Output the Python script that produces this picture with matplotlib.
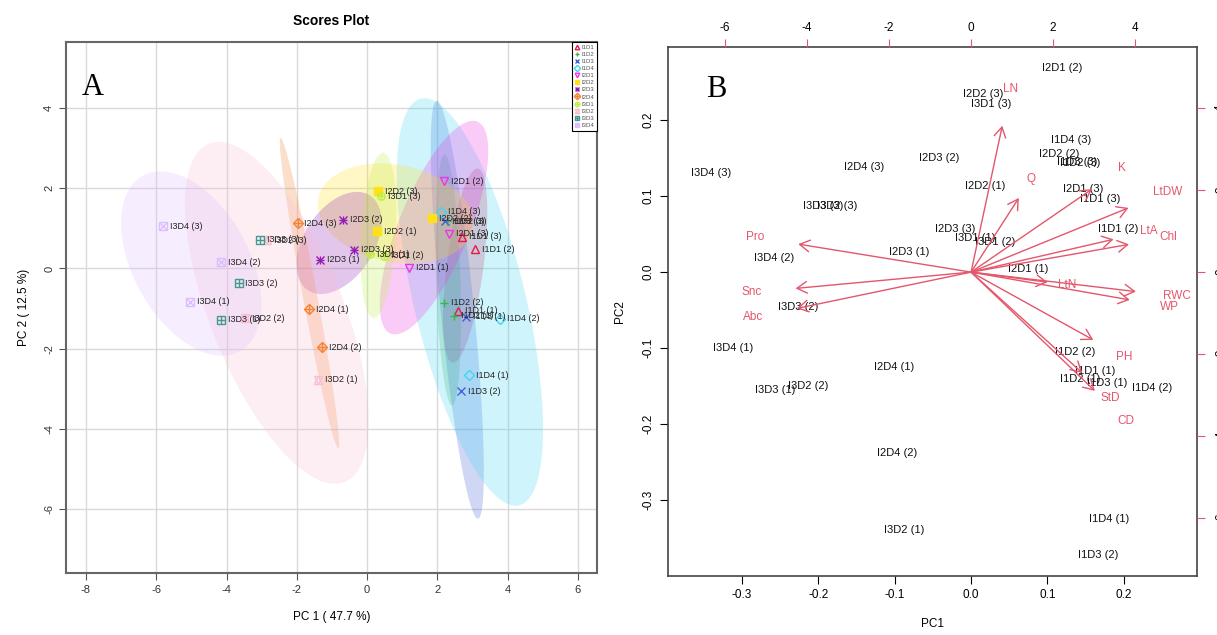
import numpy as np
import matplotlib
matplotlib.use('Agg')
import matplotlib.pyplot as plt
from matplotlib.lines import Line2D
from matplotlib.legend_handler import HandlerTuple

plt.rcParams['font.family'] = ['Liberation Sans', 'DejaVu Sans']
plt.rcParams['axes.unicode_minus'] = False

# groupes et couleurs (palette MetaboAnalyst)
groups = ['I1D1', 'I1D2', 'I1D3', 'I1D4', 'I2D1', 'I2D2',
          'I2D3', 'I2D4', 'I3D1', 'I3D2', 'I3D3', 'I3D4']
colors = ['#E6194B', '#3CB44B', '#4363D8', '#42D4F4', '#F032E6', '#FFE119',
          '#911EB4', '#F58231', '#BFEF45', '#FABED4', '#469990', '#DCBEFF']

# scores PCA (panneau A), 3 repetitions par groupe
pc1 = [2.59, 3.08, 2.70,  2.47, 2.18, 2.28,  2.81, 2.67, 2.22,  2.90, 3.79, 2.09,
       1.18, 2.19, 2.34,  0.27, 1.85, 0.30,  -1.34, -0.69, -0.37,  -1.65, -1.29, -1.98,
       0.09, 0.49, 0.39,  -1.39, -3.47, -2.85,  -4.16, -3.66, -3.06,  -5.05, -4.17, -5.80]
pc2 = [-1.06, 0.48, 0.79,  -1.18, -0.86, 1.18,  -1.20, -3.07, 1.18,  -2.67, -1.26, 1.42,
       0.02, 2.18, 0.86,  0.93, 1.25, 1.93,  0.22, 1.22, 0.47,  -1.02, -1.96, 1.13,
       0.36, 0.32, 1.80,  -2.78, -1.24, 0.70,  -1.28, -0.37, 0.72,  -0.83, 0.15, 1.05]

# biplot (panneau B) : scores mis a l'echelle
bi_x = [0.163, 0.193, 0.169,  0.143, 0.136, 0.143,  0.178, 0.166, 0.139,  0.181, 0.237, 0.131,
        0.075, 0.119, 0.147,  0.018, 0.115, 0.016,  -0.081, -0.042, -0.021,  -0.101, -0.097, -0.140,
        0.005, 0.031, 0.026,  -0.087, -0.214, -0.176,  -0.257, -0.226, -0.194,  -0.312, -0.258, -0.341]
bi_y = [-0.130, 0.057, 0.096,  -0.141, -0.105, 0.144,  -0.146, -0.372, 0.145,  -0.325, -0.152, 0.174,
        0.004, 0.268, 0.109,  0.113, 0.155, 0.234,  0.026, 0.150, 0.057,  -0.125, -0.238, 0.138,
        0.045, 0.040, 0.221,  -0.339, -0.150, 0.087,  -0.155, -0.046, 0.087,  -0.100, 0.018, 0.130]

# variables (loadings)
var_names = ['LN', 'Q', 'K', 'LtDW', 'LtA', 'Chl', 'LtN', 'RWC', 'WP',
             'PH', 'StD', 'CD', 'Pro', 'Snc', 'Abc']
load_x = [0.951, 1.456, 3.683, 4.797, 4.341, 4.813, 2.333, 5.024, 4.837,
          3.724, 3.390, 3.772, -5.268, -5.349, -5.309]
load_y = [4.463, 2.261, 2.529, 1.959, 1.000, 0.846, -0.309, -0.593, -0.846,
          -2.065, -3.073, -3.618, 0.854, -0.496, -1.106]

reps = ['1', '2', '3']
names = [g + ' (' + r + ')' for g in groups for r in reps]
grp_of = [g for g in groups for r in reps]

# symboles type pch de R
styles = {
    'I1D1': [('^', False)], 'I1D2': [('+', False)], 'I1D3': [('x', False)],
    'I1D4': [('D', False)], 'I2D1': [('v', False)], 'I2D2': [('s', True)],
    'I2D3': [('+', False), ('x', False)], 'I2D4': [('D', False), ('+', False)],
    'I3D1': [('o', False), ('+', False)], 'I3D2': [('^', False), ('v', False)],
    'I3D3': [('s', False), ('+', False)], 'I3D4': [('s', False), ('x', False)],
}
red = '#E4566B'

fig = plt.figure(figsize=(12.17, 6.35), dpi=100)

# ---------------- panneau A ----------------
axA = fig.add_axes([0.0542, 0.0976, 0.4363, 0.8362])
axA.set_xlim(-8.57, 6.54)
axA.set_ylim(-7.6, 5.65)
axA.set_xticks(range(-8, 7, 2))
axA.set_yticks(range(-6, 5, 2))
axA.grid(True, color='#D9D9D9', lw=1)
axA.set_axisbelow(True)
axA.tick_params(labelsize=8, length=5, color='#555555', labelcolor='#333333')
for lab in axA.get_yticklabels():
    lab.set_rotation(90)
    lab.set_va('center')
for s in axA.spines.values():
    s.set_color('#666666')
    s.set_linewidth(1.5)

P1 = np.array(pc1)
P2 = np.array(pc2)
G = np.array(grp_of)
tq = np.sqrt(-2 * np.log(0.05))  # ellipse de confiance 95 %
a = np.linspace(0, 2 * np.pi, 100)
for g, c in zip(groups, colors):
    pts = np.column_stack([P1[G == g], P2[G == g]])
    cov = np.cov(pts.T)
    val, vec = np.linalg.eigh(cov)
    circ = np.vstack([np.cos(a), np.sin(a)])
    el = vec @ (np.sqrt(val)[:, None] * circ) * tq
    axA.fill(el[0] + pts[:, 0].mean(), el[1] + pts[:, 1].mean(),
             color=c, alpha=0.25, lw=0, zorder=1)

handles = []
for g, c in zip(groups, colors):
    hs = []
    for m, filled in styles[g]:
        ms = 5.5 if m in '+x' else 5
        hs.append(Line2D([], [], ls='none', marker=m, ms=ms, mew=1, color=c,
                         mfc=c if filled else 'none'))
    handles.append(tuple(hs))

for x, y, n, g in zip(pc1, pc2, names, grp_of):
    c = colors[groups.index(g)]
    for m, filled in styles[g]:
        ms = 6 if m in '+x' else 5.2
        axA.plot(x, y, ls='none', marker=m, ms=ms, mew=1, color=c,
                 mfc=c if filled else 'none', zorder=3)
    axA.annotate(n, (x, y), xytext=(5, 0), textcoords='offset points',
                 fontsize=6.5, va='center', ha='left', color='#222222', zorder=4)

leg = axA.legend(handles, groups, handler_map={tuple: HandlerTuple(ndivide=1)},
                 loc='upper right', fontsize=4.3, borderaxespad=0, fancybox=False,
                 edgecolor='black', framealpha=1, handlelength=0.8, handletextpad=0.4,
                 labelspacing=0.32, borderpad=0.45, markerscale=0.65)
leg.get_frame().set_linewidth(0.8)
for t in leg.get_texts():
    t.set_color('#555555')

axA.set_title('Scores Plot', fontsize=10, fontweight='bold', pad=12)
axA.set_xlabel('PC 1 ( 47.7 %)', fontsize=8.5, labelpad=12)
axA.set_ylabel('PC 2 ( 12.5 %)', fontsize=8.5, labelpad=10)
axA.text(0.051, 0.915, 'A', transform=axA.transAxes, fontsize=22,
         family='Liberation Serif', ha='center', va='center', zorder=5)

# ---------------- panneau B ----------------
pos = [0.5489, 0.0929, 0.4347, 0.8331]
axB = fig.add_axes(pos)
axB.set_xlim(-0.397, 0.296)
axB.set_ylim(-0.400, 0.296)
axB.set_xticks([-0.3, -0.2, -0.1, 0.0, 0.1, 0.2])
axB.set_yticks([-0.3, -0.2, -0.1, 0.0, 0.1, 0.2])
axB.tick_params(labelsize=8.5, length=6)
for lab in axB.get_yticklabels():
    lab.set_rotation(90)
    lab.set_va('center')
for s in axB.spines.values():
    s.set_color('#444444')
    s.set_linewidth(1.2)
for x, y, n in zip(bi_x, bi_y, names):
    axB.text(x, y, n, fontsize=8, ha='center', va='center', color='#111111')
axB.set_xlabel('PC1', fontsize=8.5, labelpad=12)
axB.set_ylabel('PC2', fontsize=8.5, labelpad=12)
axB.text(0.091, 0.919, 'B', transform=axB.transAxes, fontsize=22,
         family='Liberation Serif', ha='center', va='center')

axV = fig.add_axes(pos, frameon=False)
axV.patch.set_visible(False)
axV.set_xlim(-7.39, 5.51)
axV.set_ylim(-7.41, 5.49)
axV.xaxis.tick_top()
axV.yaxis.tick_right()
axV.set_xticks([-6, -4, -2, 0, 2, 4])
axV.set_yticks([-6, -4, -2, 0, 2, 4])
axV.tick_params(labelsize=8.5, length=6, color=red)
axV.tick_params(axis='y', pad=7)
for lab in axV.get_yticklabels():
    lab.set_rotation(90)
    lab.set_va('center')
for x, y, n in zip(load_x, load_y, var_names):
    axV.annotate('', xy=(0.8 * x, 0.8 * y), xytext=(0, 0),
                 arrowprops=dict(arrowstyle='->, head_length=0.72, head_width=0.42',
                                 color=red, lw=1, shrinkA=0, shrinkB=0))
    axV.text(x, y, n, fontsize=8.5, ha='center', va='center', color=red)

fig.savefig('out.png', dpi=100)
